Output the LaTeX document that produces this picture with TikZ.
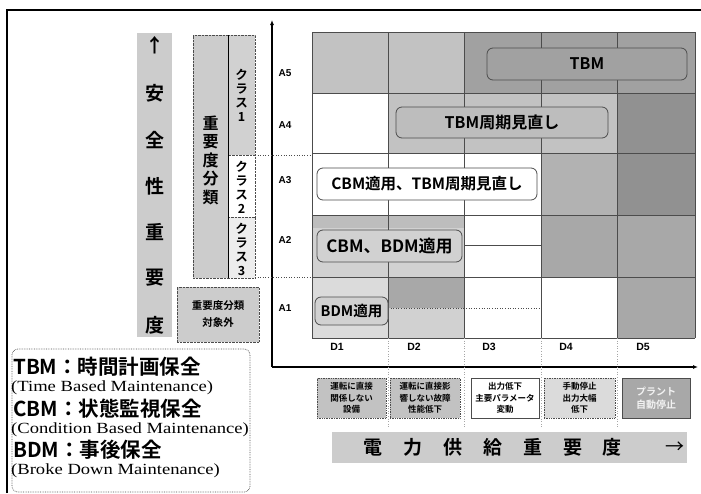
\documentclass[tikz,border=0pt]{standalone}
\usepackage{fontspec}
\setmainfont{Liberation Sans}
\newfontfamily\jp{Noto Sans CJK JP}[BoldFont={Noto Sans CJK JP Bold}]
\newfontfamily\ser{Liberation Serif}
\usetikzlibrary{arrows.meta}
\definecolor{cA}{gray}{0.76}
\definecolor{cB}{gray}{0.63}
\definecolor{cC}{gray}{0.57}
\definecolor{cD}{gray}{0.70}
\definecolor{cE}{gray}{0.82}
\definecolor{cF}{gray}{0.66}
\definecolor{cG}{gray}{0.86}
\definecolor{cH}{gray}{0.74}
\definecolor{band}{gray}{0.80}
\definecolor{lineg}{gray}{0.30}
\begin{document}
\begin{tikzpicture}[x=1pt,y=-1pt,
  gridline/.style={draw=lineg,line width=0.6pt},
  dotline/.style={draw=lineg,dotted,line width=0.6pt},
  rbox/.style={draw=lineg,rounded corners=6pt,line width=0.8pt,inner sep=0pt,font=\jp\bfseries\fontsize{16}{18}\selectfont},
  descbox/.style={draw=lineg,densely dotted,line width=0.7pt,inner sep=0pt,minimum height=40pt,align=center,font=\jp\bfseries\fontsize{8.5}{11.5}\selectfont},
  albl/.style={font=\bfseries\fontsize{10}{12}\selectfont},
  dlbl/.style={font=\bfseries\fontsize{10.5}{12}\selectfont},
  bigch/.style={font=\jp\bfseries\fontsize{19}{21}\selectfont,inner sep=0pt},
  vtext/.style={align=center,inner sep=0pt},
  legj/.style={anchor=west,inner sep=0pt,font=\jp\bfseries\fontsize{20.5}{22}\selectfont},
  lege/.style={anchor=west,inner sep=0pt,font=\ser\fontsize{15.5}{17}\selectfont}
]
\useasboundingbox (0,0) rectangle (701,493);
% outer frame
\draw[line width=1.2pt] (7,493) -- (7,10) -- (701,10);

% ---------------- grid cells ----------------
% A5
\fill[cA] (312,32) rectangle (464,93);
\fill[cB] (464,32) rectangle (695,93);
% A4
\fill[white] (312,93) rectangle (388,153);
\fill[cA] (388,93) rectangle (617,153);
\fill[cC] (617,93) rectangle (695,153);
% A3
\fill[white] (312,153) rectangle (541,215);
\fill[cD] (541,153) rectangle (617,215);
\fill[cC] (617,153) rectangle (695,215);
% A2
\fill[cE] (312,215) rectangle (464,277);
\fill[cH] (312,215) rectangle (464,228);
\fill[white] (464,215) rectangle (541,277);
\fill[cF] (541,215) rectangle (695,277);
% A1
\fill[cG] (312,277) rectangle (388,338);
\fill[cF] (388,277) rectangle (464,308);
\fill[cE] (388,308) rectangle (464,338);
\fill[white] (464,277) rectangle (617,338);
\fill[cF] (617,277) rectangle (695,338);

% grid lines
\foreach \x in {312,388,464,541,617,695} \draw[gridline] (\x,32) -- (\x,338);
\foreach \y in {32,93,153,215,277,338} \draw[gridline] (312,\y) -- (695,\y);
\draw[gridline] (464,245) -- (541,245);
\draw[dotline] (388,308) -- (541,308);

% ---------------- axes ----------------
\coordinate (O) at (272,367);
\coordinate (ytop) at (272,20);
\coordinate (xend) at (698,367);
\draw[line width=1.4pt,-{Latex[length=5pt,width=4pt]}] (O) -- (ytop);
\draw[line width=1.4pt,-{Latex[length=5pt,width=4pt]}] (O) -- (xend);

% A labels
\node[albl] (a5) at (285,73) {A5};
\node[albl] (a4) at (285,125) {A4};
\node[albl] (a3) at (285,180) {A3};
\node[albl] (a2) at (285,240) {A2};
\node[albl] (a1) at (285,308) {A1};
% D labels
\node[dlbl] (d1) at (337,347) {D1};
\node[dlbl] (d2) at (414,347) {D2};
\node[dlbl] (d3) at (489,347) {D3};
\node[dlbl] (d4) at (566,347) {D4};
\node[dlbl] (d5) at (643,347) {D5};

% dotted separators
\draw[dotline] (255,155) -- (312,155);
\draw[dotline] (255,277) -- (312,277);
\foreach \x in {388,464,541,617} \draw[draw=gray!70,dotted,line width=0.6pt] (\x,338) -- (\x,428);

% ---------------- rounded boxes ----------------
\node[rbox,fill=cB,minimum width=200pt,minimum height=32pt] (tbm) at (587,64) {TBM};
\node[rbox,fill=cH,minimum width=212pt,minimum height=31pt] (tbmr) at (502,122.5) {TBM周期見直し};
\node[rbox,fill=white,minimum width=220pt,minimum height=32pt,font=\jp\bfseries\fontsize{15.5}{17}\selectfont] (cbmt) at (427,184) {CBM適用、TBM周期見直し};
\node[rbox,fill=cE,minimum width=145pt,minimum height=32pt,font=\jp\bfseries\fontsize{17}{19}\selectfont] (cbmb) at (389.5,246) {CBM、BDM適用};
\node[rbox,fill=cE,minimum width=73pt,minimum height=28pt,font=\jp\bfseries\fontsize{14.5}{16}\selectfont] (bdm) at (351.5,311) {BDM適用};

% ---------------- description boxes ----------------
\node[descbox,fill=cA,minimum width=69pt] (e1) at (351.5,398) {運転に直接\\関係しない\\設備};
\node[descbox,fill=cA,minimum width=70pt] (e2) at (425,398) {運転に直接影\\響しない故障\\性能低下};
\node[descbox,fill=white,solid,minimum width=68pt] (e3) at (505,398) {出力低下\\主要パラメータ\\変動};
\node[descbox,fill=cG,minimum width=71pt] (e4) at (579.5,398) {手動停止\\出力大幅\\低下};
\node[descbox,fill=cF,solid,minimum width=68pt,font=\jp\bfseries\fontsize{10}{12.5}\selectfont,text=white!95!black] (e5) at (656,398) {プラント\\自動停止};

% ---------------- bottom band ----------------
\node[fill=band,minimum width=355pt,minimum height=31pt,inner sep=0pt] (pband) at (509.5,447.5) {};
\foreach \c/\xx [count=\i] in {電/373,力/413,供/453,給/493,重/533,要/573,度/612}
  \node[bigch] (pw\i) at (\xx,447.5) {\c};
\node[bigch,font=\jp\fontsize{19}{21}\selectfont] (parr) at (675,447.5) {→};

% ---------------- left vertical band ----------------
\node[fill=band,minimum width=35pt,minimum height=304pt,inner sep=0pt] (sband) at (154.5,185) {};
\node[bigch] (sarr) at (154.5,45) {↑};
\foreach \c/\yy [count=\i] in {安/93,全/140,性/186,重/232,要/278,度/325}
  \node[bigch] (sw\i) at (154.5,\yy) {\c};

% ---------------- classification ----------------
\node[draw=lineg,densely dotted,fill=band,minimum width=35pt,minimum height=243pt,inner sep=0pt] (jbox) at (210.5,156.5) {};
\node[vtext,font=\jp\bfseries\fontsize{16}{18.5}\selectfont] (jtxt) at (210.5,160) {重\\要\\度\\分\\類};
\node[draw=lineg,densely dotted,fill=cE,minimum width=27pt,minimum height=120pt,inner sep=0pt] (k1) at (241.5,95) {};
\node[draw=lineg,densely dotted,fill=white,minimum width=27pt,minimum height=62pt,inner sep=0pt] (k2) at (241.5,186) {};
\node[draw=lineg,densely dotted,fill=cG!50!white,minimum width=27pt,minimum height=61pt,inner sep=0pt] (k3) at (241.5,247.5) {};
\draw[line width=0.8pt] (228,35) -- (228,278);
\node[vtext,font=\jp\bfseries\fontsize{12.5}{14}\selectfont] (k1t) at (241.5,95) {ク\\ラ\\ス\\1};
\node[vtext,font=\jp\bfseries\fontsize{12.5}{14}\selectfont] (k2t) at (241.5,187) {ク\\ラ\\ス\\2};
\node[vtext,font=\jp\bfseries\fontsize{12.5}{14}\selectfont] (k3t) at (241.5,249) {ク\\ラ\\ス\\3};
\node[draw=lineg,densely dotted,fill=band,minimum width=82pt,minimum height=55pt,inner sep=0pt,align=center,font=\jp\bfseries\fontsize{10.5}{17}\selectfont] (outbox) at (218,314.5) {重要度分類\\対象外};

% ---------------- legend ----------------
\node[draw=lineg,densely dotted,rounded corners=6pt,line width=0.7pt,minimum width=238pt,minimum height=143pt,inner sep=0pt] (legend) at (131,420.5) {};
\node[legj] (l1) at (13,367) {TBM：時間計画保全};
\node[lege] (l2) at (11,388) {\scalebox{1.2}[1]{(Time Based Maintenance)}};
\node[legj] (l3) at (13,409) {CBM：状態監視保全};
\node[lege] (l4) at (11,430) {\scalebox{1.2}[1]{(Condition Based Maintenance)}};
\node[legj] (l5) at (13,450) {BDM：事後保全};
\node[lege] (l6) at (11,471) {\scalebox{1.2}[1]{(Broke Down Maintenance)}};
\end{tikzpicture}
\end{document}
